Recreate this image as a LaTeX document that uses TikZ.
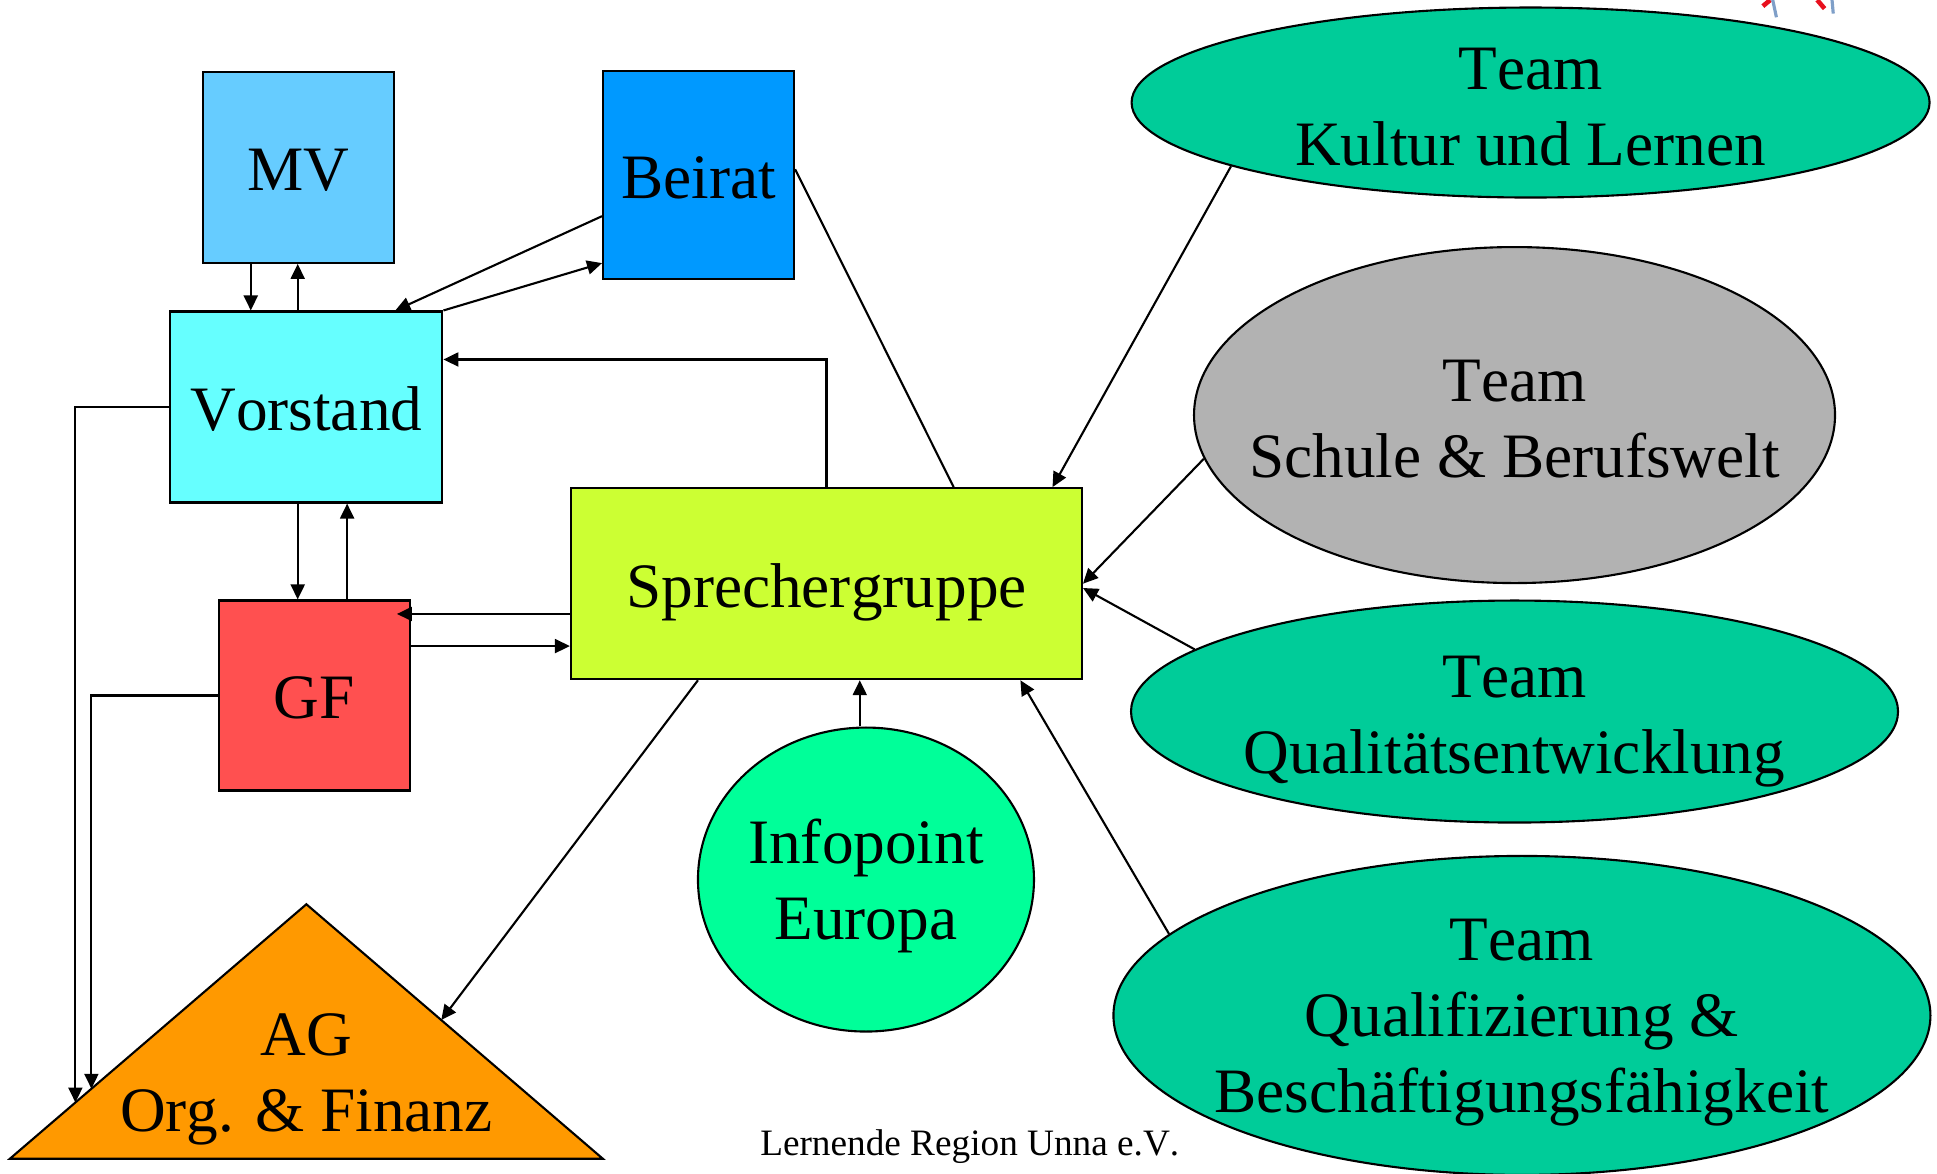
\documentclass[tikz,border=0pt]{standalone}
\usepackage{fontspec}
\setmainfont{Liberation Serif}[Kerning=Off]
\usepackage{tikz}
\usetikzlibrary{arrows.meta,calc,shapes.geometric}
\definecolor{mvblue}{HTML}{66CCFF}
\definecolor{beiratblue}{HTML}{0099FF}
\definecolor{vorstandcyan}{HTML}{66FFFF}
\definecolor{gfred}{HTML}{FF5050}
\definecolor{sprechgreen}{HTML}{CCFF33}
\definecolor{agorange}{HTML}{FF9900}
\definecolor{infogreen}{HTML}{00FF99}
\definecolor{teamgreen}{HTML}{00CC99}
\definecolor{teamgrey}{HTML}{B2B2B2}
\definecolor{logored}{HTML}{E8101E}
\definecolor{logoblue}{HTML}{7F9FC8}

\begin{document}
\begin{tikzpicture}[x=0.12353mm,y=-0.12353mm,line width=0.6pt,>={Triangle[length=1.5mm,width=1.4mm]}]
\tikzstyle{txt}=[align=center,font=\fontsize{18}{21.6}\selectfont]
\tikzstyle{box}=[rectangle,draw=black,inner sep=0pt]
\tikzstyle{team}=[ellipse,draw=black,fill=teamgreen,inner sep=0pt]
\useasboundingbox (0,0) rectangle (1568,950);
% boxes
\node [box,fill=mvblue,minimum width=19.1mm,minimum height=19.1mm,
  label={[txt,yshift=-0.7pt]center:MV}] (mv) at (241.5,135.5) {};
\node [box,fill=beiratblue,minimum width=19.1mm,minimum height=20.8mm,
  label={[txt,yshift=-0.7pt]center:Beirat}] (beirat) at (565.5,142) {};
\node [box,fill=vorstandcyan,minimum width=27.2mm,minimum height=19.1mm,
  label={[txt,yshift=-0.5pt]center:Vorstand}] (vorstand) at (248,329.5) {};
\node [box,fill=gfred,minimum width=19.1mm,minimum height=19.0mm,
  label={[txt,yshift=-0.7pt]center:GF}] (gf) at (254.5,563) {};
\node [box,fill=sprechgreen,minimum width=51.1mm,minimum height=19.1mm,
  label={[txt,yshift=-2.5pt]center:Sprechergruppe}] (sprecher) at (669,472.5) {};
% AG triangle
\coordinate (agl) at (8,938);
\coordinate (agtop) at (248,732);
\coordinate (agr) at (488,938);
\draw [fill=agorange] (agl) -- (agtop) -- (agr) -- cycle;
\node [txt] (ag) at (248,874) {AG\\Org. \& Finanz};
\coordinate (agv) at ($(agl)!0.221!(agtop)$);
\coordinate (agg) at ($(agl)!0.275!(agtop)$);
\coordinate (ags) at ($(agtop)!0.455!(agr)$);
% ellipses
\node [team,fill=infogreen,minimum width=33.6mm,minimum height=30.4mm,
  label={[txt,yshift=-1.75pt]center:Infopoint\\Europa}] (info) at (701,712) {};
\node [team,minimum width=79.8mm,minimum height=19.0mm,
  label={[txt,yshift=-1.2pt]center:Team\\Kultur und Lernen}] (kultur) at (1239,83) {};
\node [team,fill=teamgrey,minimum width=64.1mm,minimum height=33.6mm,
  label={[txt,yshift=-1.05pt]center:Team\\Schule \& Berufswelt}] (schule) at (1226,336) {};
\node [team,minimum width=76.7mm,minimum height=22.2mm,
  label={[txt,yshift=-2.8pt]center:Team\\Qualitätsentwicklung}] (qualitaet) at (1226,576) {};
\node [team,minimum width=81.7mm,minimum height=31.9mm,
  label={[txt,yshift=-2.1pt]center:Team\\Qualifizierung \&\\Beschäftigungsfähigkeit}] (qualif) at (1232,822) {};
\node [font=\fontsize{10.6}{12.7}\selectfont] (footer) at (785,928) {Lernende Region Unna e.V.};
% logo remnant
\draw [logored,line width=1.3pt] (1427,5) -- (1433,0);
\draw [logoblue,line width=0.9pt] (1435,0) -- (1438,14);
\draw [logored,line width=1.3pt] (1471,0) -- (1477,7);
\draw [logoblue,line width=0.9pt] (1483,0) -- (1484,11);
% connectors
\draw [->] (mv.south -| 203,0) -- (vorstand.north -| 203,0);
\draw [->] (vorstand.north -| 241,0) -- (mv.south -| 241,0);
\draw [->] (beirat.west |- 0,175) -- (vorstand.north -| 320,0);
\draw [->] (vorstand.north east) -- (beirat.west |- 0,213);
\draw [->] (sprecher.north) -- (sprecher.north |- 0,291) -- (vorstand.east |- 0,291);
\draw (beirat.east |- 0,137) -- (sprecher.north -| 772,0);
\draw [->] (vorstand.south -| 241,0) -- (gf.north -| 241,0);
\draw [->] (gf.north -| 281,0) -- (vorstand.south -| 281,0);
\draw [->,shorten >=-1.4mm] (sprecher.west |- 0,497) -- (gf.east |- 0,497);
\draw [->] (gf.east |- 0,523) -- (sprecher.west |- 0,523);
\draw [->] (vorstand.west) -| (agv);
\draw [->] (gf.west) -| (agg);
\draw [->] (sprecher.south -| 565,0) -- (ags);
\draw [->] (info.north -| 696,0) -- (sprecher.south -| 696,0);
\draw [->] (kultur.192) -- (sprecher.north -| 852,0);
\draw [->] (schule.188) -- (sprecher.east);
\draw [->] (qualitaet.169) -- (sprecher.east |- 0,476);
\draw [->] (qualif.167) -- (sprecher.south -| 826,0);
\end{tikzpicture}
\end{document}
